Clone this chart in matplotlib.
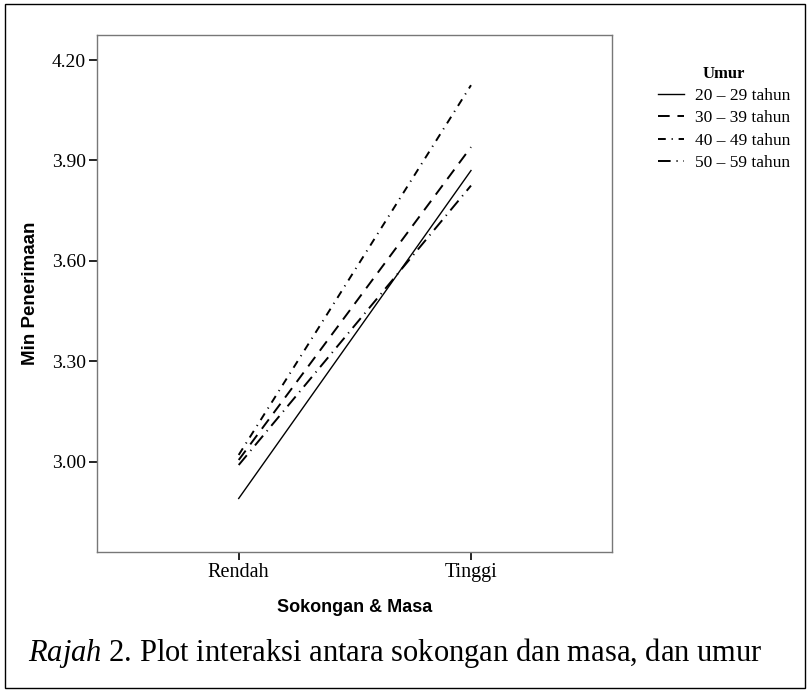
import matplotlib
matplotlib.use('Agg')
import matplotlib.pyplot as plt
from matplotlib.patches import Rectangle

plt.rcParams['mathtext.fontset'] = 'custom'
plt.rcParams['mathtext.rm'] = 'Liberation Serif'
plt.rcParams['mathtext.it'] = 'Liberation Serif:italic'

# Data
categories = ['Rendah', 'Tinggi']
groups = ['20 – 29 tahun', '30 – 39 tahun', '40 – 49 tahun', '50 – 59 tahun']
umur_20_29 = [2.89, 3.87]
umur_30_39 = [3.005, 3.94]
umur_40_49 = [3.02, 4.125]
umur_50_59 = [2.99, 3.825]
y_ticks = [3.00, 3.30, 3.60, 3.90, 4.20]

series = [umur_20_29, umur_30_39, umur_40_49, umur_50_59]
styles = ['-', (0, (6, 4)), (0, (4, 3, 0.6, 3)), (0, (6.5, 3, 0.6, 3))]
widths = [1.0, 1.4, 1.4, 1.4]

W, H = 809, 691
fig = plt.figure(figsize=(W / 100, H / 100), dpi=100)

# outer frame
fig.patches.append(Rectangle((5 / W, 1 - 688 / H), 800 / W, 684 / H,
                             transform=fig.transFigure, fill=False,
                             edgecolor='black', linewidth=1.0))

left, right, top, bottom = 97, 612, 35, 552
ax = fig.add_axes([left / W, 1 - bottom / H, (right - left) / W, (bottom - top) / H])

x = list(range(len(categories)))
for vals, ls, lw, name in zip(series, styles, widths, groups):
    ax.plot(x, vals, color='black', linestyle=ls, linewidth=lw, label=name)

ax.set_xlim(-0.61, 1.607)
ax.set_ylim(2.73, 4.275)
ax.set_xticks(x)
ax.set_xticklabels(categories, family='Liberation Serif', fontsize=14.5)
ax.set_yticks(y_ticks)
ax.set_yticklabels([f'{v:.2f}' for v in y_ticks], family='Liberation Serif', fontsize=14)
ax.tick_params(direction='out', length=6, width=1.2, color='black', pad=2)

for sp in ax.spines.values():
    sp.set_color('#777777')
    sp.set_linewidth(1.0)

ax.set_xlabel('Sokongan & Masa', family='Liberation Sans', fontweight='bold',
              fontsize=13, labelpad=12)
ax.set_ylabel('Min Penerimaan', family='Liberation Sans', fontweight='bold',
              fontsize=13.5, labelpad=9)

leg = ax.legend(loc='upper left', bbox_to_anchor=(1.09, 0.94), frameon=False,
                title='Umur', handlelength=1.5, handletextpad=0.6,
                labelspacing=0.35, borderaxespad=0, borderpad=0,
                prop={'family': 'Liberation Serif', 'size': 12.5})
leg.get_title().set_fontfamily('Liberation Serif')
leg.get_title().set_fontweight('bold')
leg.get_title().set_fontsize(12)
leg._legend_box.align = 'center'

fig.text(28 / W, 1 - 653 / H, r'$\mathit{Rajah}$ 2. Plot interaksi antara sokongan dan masa, dan umur',
         family='Liberation Serif', fontsize=22, va='center', ha='left')

fig.savefig('out.png', dpi=100)
